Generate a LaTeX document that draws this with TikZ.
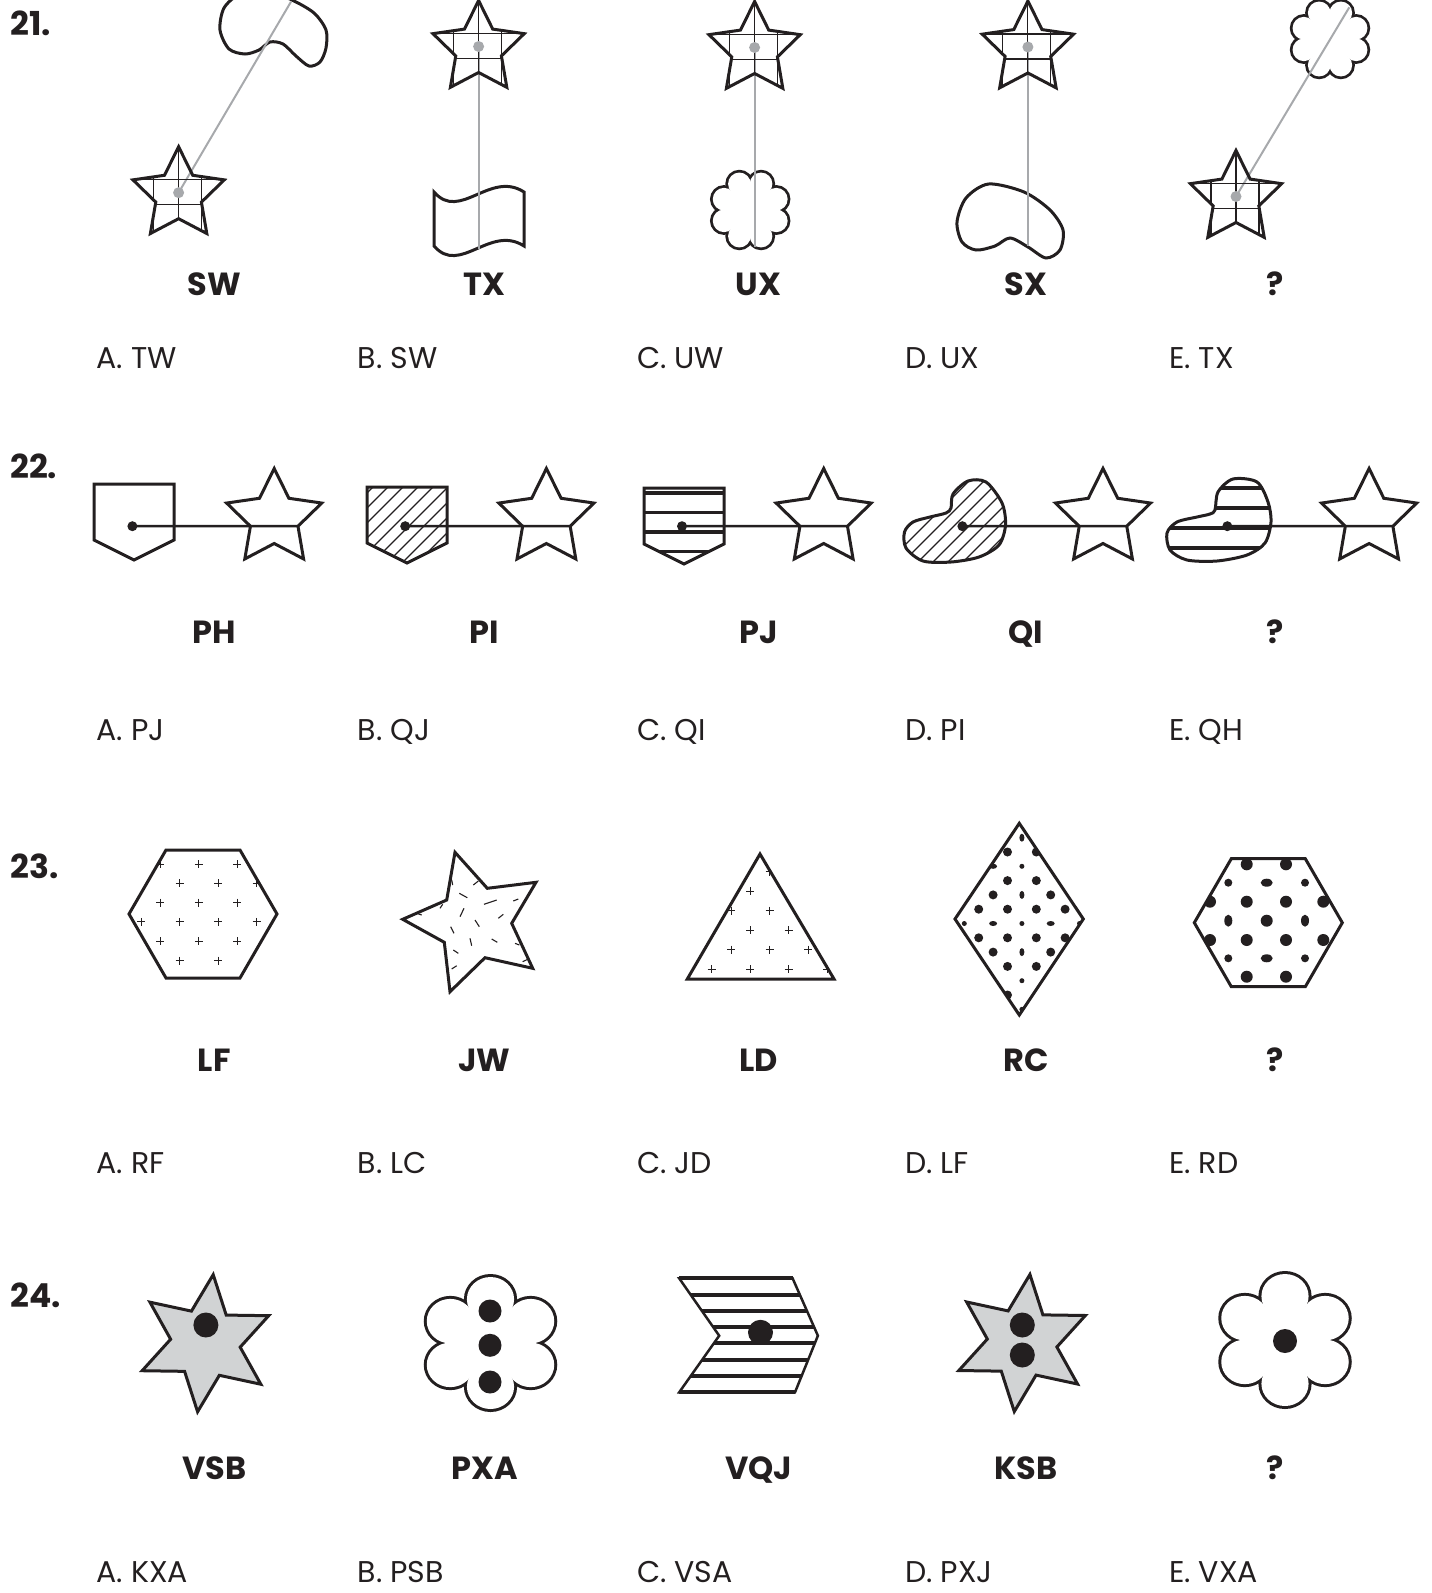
\documentclass[tikz,border=0pt]{standalone}
\usepackage{fontspec}
\setmainfont{Poppins}
\usetikzlibrary{calc}
\definecolor{inkblack}{RGB}{35,31,32}
\definecolor{linkgray}{RGB}{167,169,172}
\definecolor{starfill}{RGB}{209,211,212}
\newcommand{\fivepoints}[2]{(-90:#1) -- (-54:#2) -- (-18:#1) -- (18:#2) -- (54:#1) -- (90:#2) -- (126:#1) -- (162:#2) -- (198:#1) -- (234:#2) -- cycle}
\newcommand{\pocketpath}[2]{(#1,#2) -- ++(80,0) -- ++(0,56) -- ++(-40,20) -- ++(-40,-20) -- cycle}
\newcommand{\hexpath}[2]{({#1+74},#2) -- ({#1+37},{#2-64}) -- ({#1-37},{#2-64}) -- ({#1-74},#2) -- ({#1-37},{#2+64}) -- ({#1+37},{#2+64}) -- cycle}
\newcommand{\beanqi}{plot[smooth cycle] coordinates {(951,508) (953,494) (968,481) (986,482) (1002,503) (1005.5,525) (999,545) (979,557) (951,562) (923,561) (906,548) (904.5,532) (913,522) (930,517) (946,513)}}
\newcommand{\beanqh}{plot[smooth cycle] coordinates {(1215,510) (1218,492) (1233,479) (1257,482) (1268,502) (1271,522) (1265,543) (1247,555) (1217,561) (1187,560) (1170,550) (1167,533) (1177,522) (1197,517) (1210,514)}}
\newcommand{\chevronpath}{(679.2,1278.3) -- (792.6,1278.3) -- (817.9,1335.7) -- (795,1392.3) -- (679.2,1392.3) -- (719.2,1335.7) -- cycle}
\tikzset{
  gridstar/.pic={
    \begin{scope}
      \clip \fivepoints{48}{24};
      \draw[thinline] (-25,-60) -- (-25,60) (0,-60) -- (0,60) (23,-60) -- (23,60) (-60,-15) -- (60,-15) (-60,10) -- (60,10);
    \end{scope}
    \draw[outline] \fivepoints{48}{24};
  },
  plainstar/.pic={
    \draw[outline] \fivepoints{50}{25};
  },
  sixstar/.pic={
    \draw[outline, fill=starfill] (-83.5:69) -- (-53.5:35) -- (-23.5:69) -- (6.5:35) -- (36.5:69) -- (66.5:35) -- (96.5:69) -- (126.5:35) -- (156.5:69) -- (186.5:35) -- (216.5:69) -- (246.5:35) -- cycle;
  },
  flower/.pic={
    \foreach \a in {-90,-30,30,90,150,210} \draw[inkblack, line width=6pt] (\a:43.75) circle[radius=22.25];
    \fill[white] (0,0) circle[radius=37];
    \foreach \a in {-90,-30,30,90,150,210} \fill[white] (\a:43.75) circle[radius=22.25];
  },
  cloud/.pic={
    \foreach \a in {-67.5,-22.5,...,247.5} \draw[inkblack, line width=5.5pt] (\a:28.3) circle[radius=11.3];
    \fill[white] (0,0) circle[radius=25];
    \foreach \a in {-67.5,-22.5,...,247.5} \fill[white] (\a:28.3) circle[radius=11.3];
  },
  plusmark/.pic={
    \draw[inkblack, line width=0.9pt] (-4,0) -- (4,0) (0,-4) -- (0,4);
  }
}
\begin{document}
\begin{tikzpicture}[x=1pt, y=-1pt,
    outline/.style={draw=inkblack, line width=3pt, line join=miter},
    thinline/.style={draw=inkblack, line width=1.1pt},
    link/.style={draw=linkgray, line width=2pt},
    bond/.style={draw=inkblack, line width=2.5pt},
    stripe/.style={draw=inkblack, line width=4pt},
    qnum/.style={anchor=base west, inner sep=0pt, text=inkblack, font=\fontsize{33}{40}\selectfont\bfseries},
    tag/.style={anchor=base, inner sep=0pt, text=inkblack, font=\fontsize{32}{38}\selectfont\bfseries},
    answer/.style={anchor=base west, inner sep=0pt, text=inkblack, font=\fontsize{30}{36}\selectfont}]
  \useasboundingbox (0,0) rectangle (1432,1593);
  \clip (0,0) rectangle (1432,1593);

  % 21
  \node[qnum] (q21) at (10,35) {21.};
  \draw[outline] plot[smooth cycle] coordinates {(220,30) (224,8) (240,-6) (265,-10) (292,0) (314,13) (326,30) (326,48) (320,62) (309,66) (296,56) (283,44) (270,42) (259,50) (245,54) (229,49)};
  \coordinate (d21a) at (178.6,192.7);
  \coordinate (b21a) at (291,1.7);
  \draw[link] (d21a) -- (b21a);
  \pic at (178.6,194.7) {gridstar};
  \fill[linkgray] (d21a) circle[radius=5.5];

  \draw[outline] (434,192) .. controls (460,222) and (490,170) .. (524,192) -- (524,246) .. controls (490,224) and (460,276) .. (434,246) -- cycle;
  \coordinate (d21b) at (478.6,46.5);
  \coordinate (b21b) at (478.6,249);
  \draw[link] (d21b) -- (b21b);
  \pic at (478.6,48.5) {gridstar};
  \fill[linkgray] (d21b) circle[radius=5.5];

  \pic at (750.2,210) {cloud};
  \coordinate (d21c) at (754.6,47.5);
  \coordinate (b21c) at (754.6,247);
  \draw[link] (d21c) -- (b21c);
  \pic at (754.6,49.5) {gridstar};
  \fill[linkgray] (d21c) circle[radius=5.5];

  \draw[outline] plot[smooth cycle] coordinates {(957,222) (966,198) (988.6,184) (1024,192) (1050,210) (1063,230) (1060,250) (1046,258) (1028,247) (1010,238) (995,246) (976,250) (962,242)};
  \coordinate (d21d) at (1027.9,47);
  \coordinate (b21d) at (1027.9,246);
  \draw[link] (d21d) -- (b21d);
  \pic at (1027.9,49) {gridstar};
  \fill[linkgray] (d21d) circle[radius=5.5];

  \pic at (1330,39) {cloud};
  \coordinate (d21e) at (1236,196.5);
  \coordinate (b21e) at (1349.3,7.3);
  \draw[link] (d21e) -- (b21e);
  \pic at (1236,198.5) {gridstar};
  \fill[linkgray] (d21e) circle[radius=5.5];

  \node[tag] (t21a) at (214.3,295) {SW};
  \node[tag] (t21b) at (484.5,295) {TX};
  \node[tag] (t21c) at (758.7,295) {UX};
  \node[tag] (t21d) at (1025.8,295) {SX};
  \node[tag] (t21e) at (1274.6,295) {?};
  \node[answer] (a21a) at (96.5,368) {A. TW};
  \node[answer] (a21b) at (357.5,368) {B. SW};
  \node[answer] (a21c) at (636.8,368) {C. UW};
  \node[answer] (a21d) at (905,368) {D. UX};
  \node[answer] (a21e) at (1169,368) {E. TX};

  % 22
  \node[qnum] (q22) at (10,478) {22.};
  \draw[outline] \pocketpath{94}{484};
  \coordinate (d22a) at (132.4,526.2);
  \coordinate (s22a) at (274.2,518.5);
  \pic at (s22a) {plainstar};
  \draw[bond] (d22a) -- ($(s22a)+(18:25)$);
  \fill[inkblack] (d22a) circle[radius=5];

  \begin{scope}
    \clip \pocketpath{367}{487};
    \foreach \s in {0,15,...,180} \draw[thinline] ({265+\s},580) -- ++(120,-120);
  \end{scope}
  \draw[outline] \pocketpath{367}{487};
  \coordinate (d22b) at (405.2,526.2);
  \coordinate (s22b) at (546.4,518.5);
  \pic at (s22b) {plainstar};
  \draw[bond] (d22b) -- ($(s22b)+(18:25)$);
  \fill[inkblack] (d22b) circle[radius=5];

  \begin{scope}
    \clip \pocketpath{644}{488};
    \foreach \y in {493,512.5,532,551.5} \draw[stripe, line width=3.5pt] (630,\y) -- (740,\y);
  \end{scope}
  \draw[outline] \pocketpath{644}{488};
  \coordinate (d22c) at (682,526.2);
  \coordinate (s22c) at (823.7,518.5);
  \pic at (s22c) {plainstar};
  \draw[bond] (d22c) -- ($(s22c)+(18:25)$);
  \fill[inkblack] (d22c) circle[radius=5];

  \begin{scope}
    \clip \beanqi;
    \foreach \s in {0,15,...,195} \draw[thinline] ({795+\s},580) -- ++(120,-120);
  \end{scope}
  \draw[outline] \beanqi;
  \coordinate (d22d) at (962.4,526.2);
  \coordinate (s22d) at (1103,518.5);
  \pic at (s22d) {plainstar};
  \draw[bond] (d22d) -- ($(s22d)+(18:25)$);
  \fill[inkblack] (d22d) circle[radius=5];

  \begin{scope}
    \clip \beanqh;
    \foreach \y in {488,508,528,548} \draw[stripe, line width=3.5pt] (1150,\y) -- (1290,\y);
  \end{scope}
  \draw[outline] \beanqh;
  \coordinate (d22e) at (1227.3,526.2);
  \coordinate (s22e) at (1369.1,518.5);
  \pic at (s22e) {plainstar};
  \draw[bond] (d22e) -- ($(s22e)+(18:25)$);
  \fill[inkblack] (d22e) circle[radius=5];

  \node[tag] (t22a) at (214.3,643) {PH};
  \node[tag] (t22b) at (484.5,643) {PI};
  \node[tag] (t22c) at (758.7,643) {PJ};
  \node[tag] (t22d) at (1025.8,643) {QI};
  \node[tag] (t22e) at (1274.6,643) {?};
  \node[answer] (a22a) at (96.5,740) {A. PJ};
  \node[answer] (a22b) at (357.5,740) {B. QJ};
  \node[answer] (a22c) at (636.8,740) {C. QI};
  \node[answer] (a22d) at (905,740) {D. PI};
  \node[answer] (a22e) at (1169,740) {E. QH};

  % 23
  \node[qnum] (q23) at (10,878) {23.};
  \begin{scope}
    \clip \hexpath{203}{914};
    \foreach \k in {0,...,5}{
      \foreach \j in {-1,...,4}{
        \pgfmathsetmacro{\px}{160.3+38.5*\j-19.3*mod(\k,2)}
        \pgfmathsetmacro{\py}{864+19.3*\k}
        \pic at (\px,\py) {plusmark};
      }
    }
  \end{scope}
  \draw[outline] \hexpath{203}{914};

  \foreach \ax/\ay/\bx/\by in {459.3/893.3/467.3/897.7, 484/904.3/496.7/900, 513.3/901/518.3/899, 460/916.7/464/908.3, 475/920/479.3/926.7, 498.3/918.3/503.3/914.3, 450.7/926.7/454/933.3, 470/938.3/471.7/945.7, 491.7/939/497.3/942.3, 453.3/950/458.3/953.3, 451.7/969/456.7/965.7, 440/908.3/442.7/904.3, 416.7/913.3/421.7/915, 473.3/885/478.3/881, 451.7/880/452.7/885, 522.7/961.7/528.3/959, 515/943.3/519.3/945}
    \draw[thinline] (\ax,\ay) -- (\bx,\by);
  \draw[outline] (455,852.3) -- (487.3,888.3) -- (536,882.3) -- (511.7,923.3) -- (532.7,968.3) -- (485,957.7) -- (450,991.7) -- (444.3,942.3) -- (402.7,919.3) -- (446.7,900) -- cycle;

  \begin{scope}
    \clip (760,854) -- (834,979) -- (687.3,979) -- cycle;
    \foreach \k in {0,...,5}{
      \foreach \j in {-1,...,3}{
        \pgfmathsetmacro{\px}{731+38.5*\j-19.3*mod(\k,2)}
        \pgfmathsetmacro{\py}{871.5+19.5*\k}
        \pic at (\px,\py) {plusmark};
      }
    }
  \end{scope}
  \draw[outline] (760,854) -- (834,979) -- (687.3,979) -- cycle;

  \begin{scope}
    \clip (1019.3,823.3) -- (1083.3,919) -- (1019.3,1015) -- (955,919) -- cycle;
    \foreach \x/\y/\a/\b in {1007.5/852/4.5/4.5, 1036.3/852/4.5/4.5, 1007.5/880.6/4.5/4.5, 1036.3/880.6/4.5/4.5, 993.1/894.9/4.5/4.5, 1050.7/894.9/4.5/4.5, 978.7/909.2/4.5/4.5, 1007.5/909.2/4.5/4.5, 1036.3/909.2/4.5/4.5, 1065.1/909.2/4.5/4.5, 978.7/937.8/4.5/4.5, 1007.5/937.8/4.5/4.5, 1036.3/937.8/4.5/4.5, 1065.1/937.8/4.5/4.5, 993.1/952.1/4.5/4.5, 1050.7/952.1/4.5/4.5, 1007.5/966.4/4.5/4.5, 1036.3/966.4/4.5/4.5, 1007.5/995/4.5/4.5, 1021.9/837.7/2.5/4, 1021.9/894.9/2.5/4, 1021.9/952.1/2.5/4, 993.1/866.3/4/2.5, 1050.7/866.3/4/2.5, 993.1/923.5/4/2.5, 1050.7/923.5/4/2.5, 993.1/980.7/4/2.5, 1021.9/866.3/2.5/2.5, 964.3/923.5/2.5/2.5, 1021.9/923.5/2.5/2.5, 1079.5/923.5/2.5/2.5, 1021.9/980.7/2.5/2.5, 1021.9/1009.3/2.5/2.5}
      \fill[inkblack] (\x,\y) ellipse[x radius=\a, y radius=\b];
  \end{scope}
  \draw[outline] (1019.3,823.3) -- (1083.3,919) -- (1019.3,1015) -- (955,919) -- cycle;

  \begin{scope}
    \clip \hexpath{1268.3}{922.7};
    \foreach \x/\y/\a/\b in {1246.7/864.3/6/6, 1286/864.3/6/6, 1210/901.7/6/6, 1246.7/901.7/6/6, 1286/901.7/6/6, 1323.3/901.7/6/6, 1266.7/920.7/6/6, 1210/940/6/6, 1246.7/940/6/6, 1286/940/6/6, 1323.3/940/6/6, 1246.7/976.7/6/6, 1286/976.7/6/6, 1228.3/882.7/4/4, 1305/882.7/4/4, 1228.3/958.3/4/4, 1305/958.3/4/4, 1266.7/882.7/6/4, 1266.7/958.3/6/4, 1228.3/920.7/4/6, 1305/920.7/4/6}
      \fill[inkblack] (\x,\y) ellipse[x radius=\a, y radius=\b];
  \end{scope}
  \draw[outline] \hexpath{1268.3}{922.7};

  \node[tag] (t23a) at (214.3,1071) {LF};
  \node[tag] (t23b) at (484.5,1071) {JW};
  \node[tag] (t23c) at (758.7,1071) {LD};
  \node[tag] (t23d) at (1025.8,1071) {RC};
  \node[tag] (t23e) at (1274.6,1071) {?};
  \node[answer] (a23a) at (96.5,1173) {A. RF};
  \node[answer] (a23b) at (357.5,1173) {B. LC};
  \node[answer] (a23c) at (636.8,1173) {C. JD};
  \node[answer] (a23d) at (905,1173) {D. LF};
  \node[answer] (a23e) at (1169,1173) {E. RD};

  % 24
  \node[qnum] (q24) at (10,1307) {24.};
  \pic at (205.4,1343.2) {sixstar};
  \fill[inkblack] (205.9,1325) circle[radius=12.5];

  \pic[xscale=1.06] at (490.5,1343) {flower};
  \foreach \y in {1311,1345.3,1382} \fill[inkblack] (490,\y) circle[radius=11.5];

  \begin{scope}
    \clip \chevronpath;
    \foreach \k in {1,...,6} \draw[stripe] (660,{1278.3+16.25*\k}) -- (830,{1278.3+16.25*\k});
  \end{scope}
  \draw[outline, line width=2.5pt] \chevronpath;
  \draw[stripe] (679.2,1278.3) -- (792.6,1278.3) (679.2,1392.3) -- (795,1392.3);
  \fill[inkblack] (760.5,1332.3) circle[radius=12.5];

  \pic at (1022.1,1343) {sixstar};
  \fill[inkblack] (1022.3,1325) circle[radius=12.5];
  \fill[inkblack] (1022.3,1355) circle[radius=12.5];

  \pic[xscale=1.06] at (1285,1340) {flower};
  \fill[inkblack] (1285,1341) circle[radius=12];

  \node[tag] (t24a) at (214.3,1479) {VSB};
  \node[tag] (t24b) at (484.5,1479) {PXA};
  \node[tag] (t24c) at (758.7,1479) {VQJ};
  \node[tag] (t24d) at (1025.8,1479) {KSB};
  \node[tag] (t24e) at (1274.6,1479) {?};
  \node[answer] (a24a) at (96.5,1582) {A. KXA};
  \node[answer] (a24b) at (357.5,1582) {B. PSB};
  \node[answer] (a24c) at (636.8,1582) {C. VSA};
  \node[answer] (a24d) at (905,1582) {D. PXJ};
  \node[answer] (a24e) at (1169,1582) {E. VXA};
\end{tikzpicture}
\end{document}
